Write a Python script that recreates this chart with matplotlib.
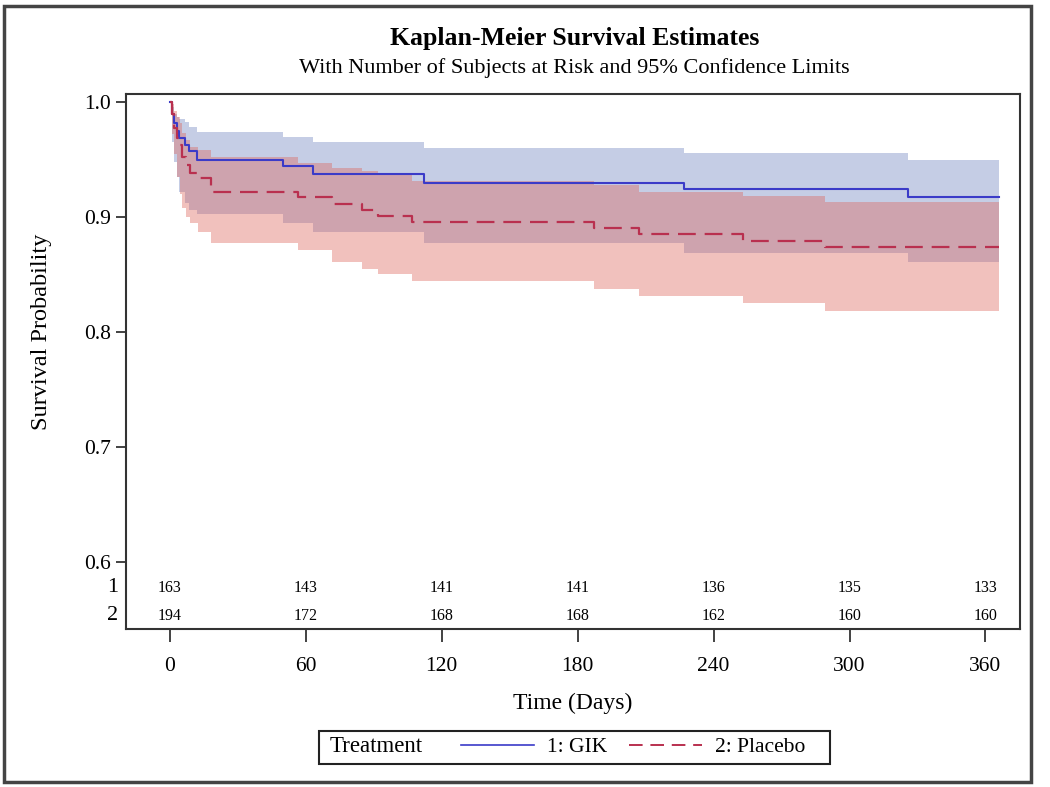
import matplotlib.pyplot as plt
from matplotlib.lines import Line2D
from matplotlib.patches import Rectangle

plt.rcParams['font.family'] = ['Liberation Serif', 'DejaVu Serif']

# Kaplan-Meier step data (days, survival)
gik_t = [0, 1, 2, 3, 4, 6.5, 8.5, 12, 50, 63, 112, 227, 326, 366]
gik_s = [1.0, 0.990, 0.982, 0.975, 0.969, 0.963, 0.957, 0.950, 0.944, 0.937, 0.930, 0.924, 0.917, 0.917]
gik_lo = [1.0, 0.965, 0.948, 0.935, 0.922, 0.912, 0.906, 0.903, 0.8945, 0.887, 0.877, 0.869, 0.861, 0.861]
gik_hi = [1.0, 0.996, 0.990, 0.987, 0.985, 0.983, 0.9785, 0.974, 0.970, 0.9655, 0.960, 0.956, 0.950, 0.950]

plac_t = [0, 1, 2, 3, 4.4, 5.2, 7, 9, 12.5, 18, 56.7, 71.4, 84.7, 92, 107, 187, 207, 253, 289, 366]
plac_s = [1.0, 0.990, 0.977, 0.969, 0.963, 0.952, 0.945, 0.938, 0.934, 0.922, 0.917, 0.911,
          0.906, 0.901, 0.896, 0.890, 0.885, 0.879, 0.874, 0.874]
plac_lo = [1.0, 0.972, 0.955, 0.935, 0.920, 0.908, 0.900, 0.8945, 0.887, 0.877, 0.871, 0.861,
           0.855, 0.850, 0.844, 0.837, 0.831, 0.825, 0.818, 0.818]
plac_hi = [1.0, 0.998, 0.992, 0.987, 0.982, 0.973, 0.967, 0.961, 0.958, 0.9525, 0.947, 0.943,
           0.940, 0.9365, 0.931, 0.928, 0.922, 0.918, 0.913, 0.913]

# numbers at risk
risk_times = [0, 60, 120, 180, 240, 300, 360]
risk_gik = [163, 143, 141, 141, 136, 135, 133]
risk_plac = [194, 172, 168, 168, 162, 160, 160]

blue = '#3b3bc8'
red = '#b9304f'

fig = plt.figure(figsize=(10.5, 7.87), dpi=100)
ax = fig.add_axes([0.12, 0.2008, 0.8515, 0.6798])

ax.fill_between(gik_t, gik_lo, gik_hi, step='post', color=(110/255, 132/255, 192/255),
                alpha=0.4, linewidth=0)
ax.fill_between(plac_t, plac_lo, plac_hi, step='post', color=(222/255, 100/255, 92/255),
                alpha=0.4, linewidth=0)
ax.step(gik_t, gik_s, where='post', color=blue, lw=1.5, label='1: GIK')
ax.step(plac_t, plac_s, where='post', color=red, lw=1.6, dashes=(8, 4), label='2: Placebo')

# at-risk rows inside the plot
for t, n1, n2 in zip(risk_times, risk_gik, risk_plac):
    ax.text(t, 0.5774, str(n1), ha='center', va='center', fontsize=11.5)
    ax.text(t, 0.553, str(n2), ha='center', va='center', fontsize=11.5)
ax.text(-0.009, 0.5774, '1', transform=ax.get_yaxis_transform(), ha='right', va='center', fontsize=16)
ax.text(-0.009, 0.553, '2', transform=ax.get_yaxis_transform(), ha='right', va='center', fontsize=16)

ax.set_xlim(-19.4, 375.3)
ax.set_ylim(0.5417, 1.007)
ax.set_xticks(risk_times)
ax.set_yticks([0.6, 0.7, 0.8, 0.9, 1.0])
ax.set_yticklabels(['0.6', '0.7', '0.8', '0.9', '1.0'])
ax.tick_params(axis='both', labelsize=15.5, direction='out', width=1.2, color='#222222')
ax.tick_params(axis='x', length=9, pad=11)
ax.tick_params(axis='y', length=7, pad=4)
for sp in ax.spines.values():
    sp.set_linewidth(1.5)
    sp.set_color('#333333')

ax.set_xlabel('Time (Days)', fontsize=17, labelpad=12)
ax.set_ylabel('Survival Probability', fontsize=17.5, labelpad=0)
ax.yaxis.set_label_coords(-0.083, (0.8 - 0.5417) / (1.007 - 0.5417))

fig.text(0.547, 0.951, 'Kaplan-Meier Survival Estimates', ha='center', va='center',
         fontsize=18.5, fontweight='bold')
fig.text(0.547, 0.914, 'With Number of Subjects at Risk and 95% Confidence Limits',
         ha='center', va='center', fontsize=16)

# legend with a framed row
fig.patches.append(Rectangle((319 / 1050, 1 - 764 / 787), (830 - 319) / 1050, 33 / 787,
                             transform=fig.transFigure, fill=False, lw=1.5, ec='#222222'))
fig.text(330 / 1050, 1 - 747 / 787, 'Treatment', ha='left', va='center', fontsize=16.5)
handles = [Line2D([], [], color=blue, lw=1.2),
           Line2D([], [], color=red, lw=1.4, dashes=(7, 4))]
fig.legend(handles, ['1: GIK', '2: Placebo'], ncol=2, frameon=False, fontsize=15.5,
           loc='center left', bbox_to_anchor=(450 / 1050, 1 - 747 / 787),
           handlelength=3.4, handletextpad=0.6, columnspacing=1.0, borderpad=0)

# outer border
fig.patches.append(Rectangle((4 / 1050, 5 / 787), 1027 / 1050, 776 / 787,
                             transform=fig.transFigure, fill=False, lw=2.5, ec='#444444'))

fig.savefig('out.png', dpi=100)
